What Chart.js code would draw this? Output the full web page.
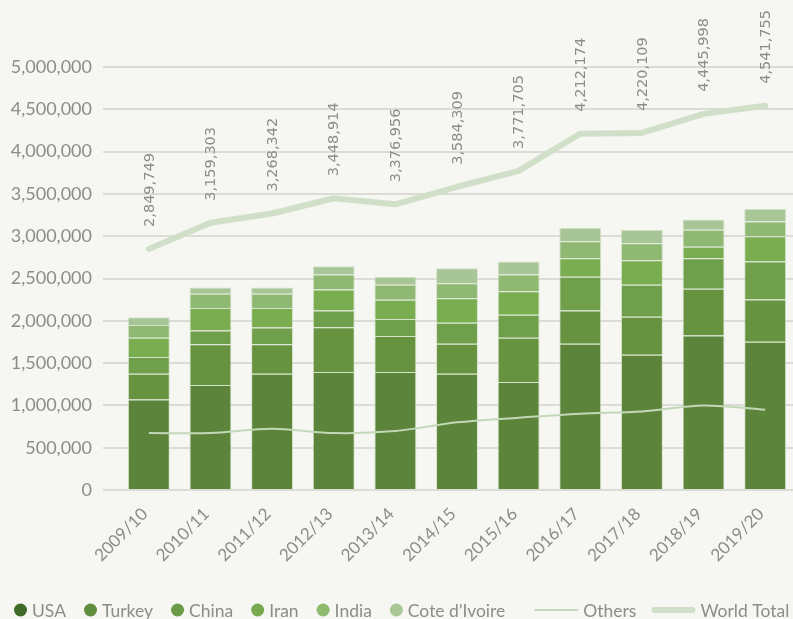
<!DOCTYPE html>
<html>
<head>
<meta charset="utf-8">
<script src="https://cdn.jsdelivr.net/npm/chart.js@4.4.1/dist/chart.umd.min.js"></script>
<style>
  html, body { margin: 0; padding: 0; background: #f6f6f2; overflow: hidden; }
  #wrap { width: 796px; height: 619px; }
</style>
</head>
<body>
<div id="wrap"><canvas id="chart"></canvas></div>
<script>
// seasons on the x axis
const seasons = ["2009/10", "2010/11", "2011/12", "2012/13", "2013/14", "2014/15",
                 "2015/16", "2016/17", "2017/18", "2018/19", "2019/20"];

// stacked producers (bottom to top)
const usa         = [1071000, 1240000, 1375000, 1394000, 1394000, 1375000, 1276000, 1729000, 1599000, 1827000, 1753000];
const turkey      = [304000, 484000, 349000, 531000, 425000, 354000, 524000, 393000, 449000, 552000, 499000];
const china       = [196000, 162000, 198000, 197000, 201000, 248000, 272000, 398000, 378000, 361000, 449000];
const iran        = [229000, 264000, 228000, 248000, 229000, 291000, 278000, 220000, 290000, 135000, 299000];
const india       = [149000, 170000, 170000, 178000, 177000, 177000, 198000, 201000, 201000, 200000, 173000];
const coteDIvoire = [94000, 74000, 74000, 98000, 94000, 177000, 153000, 158000, 158000, 122000, 150000];

// lines
const others     = [673000, 673000, 725000, 673000, 697000, 800000, 855000, 902000, 929000, 1000000, 950000];
const worldTotal = [2849749, 3159303, 3268342, 3448914, 3376956, 3584309, 3771705, 4212174, 4220109, 4445998, 4541755];

const yTicks = [0, 500000, 1000000, 1500000, 2000000, 2500000, 3000000, 3500000, 4000000, 4500000, 5000000];

const GREY = "#8c8c8c";

function barSet(label, data, color, legendColor) {
    return {
        type: "bar", label: label, data: data, stack: "bars", order: 2,
        backgroundColor: color, legendColor: legendColor,
        borderColor: "rgba(200,222,188,0.75)", borderWidth: 1,
        categoryPercentage: 0.68, barPercentage: 1
    };
}

// value labels above the world total line
const totalLabels = {
    id: "totalLabels",
    afterDatasetsDraw(chart) {
        const ctx = chart.ctx;
        const meta = chart.getDatasetMeta(7);
        ctx.save();
        ctx.font = "14.5px 'DejaVu Sans'";
        ctx.fillStyle = GREY;
        ctx.textAlign = "left";
        ctx.textBaseline = "middle";
        meta.data.forEach((pt, i) => {
            ctx.save();
            ctx.translate(pt.x + 1, pt.y - 22);
            ctx.rotate(-Math.PI / 2);
            ctx.fillText(worldTotal[i].toLocaleString("en-US"), 0, 0);
            ctx.restore();
        });
        ctx.restore();
    }
};

// legend along the bottom
const bottomLegend = {
    id: "bottomLegend",
    afterDraw(chart) {
        const ctx = chart.ctx;
        const y = 610;
        let x = 14;
        let prevType = null;
        ctx.save();
        ctx.font = "17.5px Lato";
        ctx.fillStyle = GREY;
        ctx.textBaseline = "middle";
        chart.data.datasets.forEach((ds, i) => {
            if (i > 0) {
                if (ds.type === "line" && prevType === "bar") x += 29;
                else if (ds.type === "line") x += 15;
                else x += 18;
            }
            if (ds.type === "bar") {
                ctx.beginPath();
                ctx.arc(x + 6.5, y, 6.5, 0, Math.PI * 2);
                ctx.fillStyle = ds.legendColor;
                ctx.fill();
                x += 18;
            } else {
                ctx.beginPath();
                ctx.moveTo(x + ds.borderWidth / 2, y);
                ctx.lineTo(x + 44 - ds.borderWidth / 2, y);
                ctx.strokeStyle = ds.borderColor;
                ctx.lineWidth = ds.borderWidth;
                ctx.lineCap = "round";
                ctx.stroke();
                x += 49;
            }
            ctx.fillStyle = GREY;
            ctx.fillText(ds.label, x, y + 1);
            x += ctx.measureText(ds.label).width;
            prevType = ds.type;
        });
        ctx.restore();
    }
};

new Chart(document.getElementById("chart"), {
    data: {
        labels: seasons,
        datasets: [
            barSet("USA", usa, "#5c843a", "#3f6c29"),
            barSet("Turkey", turkey, "#67923f", "#5f8e3e"),
            barSet("China", china, "#6f9f4a", "#6a9b48"),
            barSet("Iran", iran, "#7aad50", "#77aa4f"),
            barSet("India", india, "#8fb873", "#8fbb70"),
            barSet("Cote d'Ivoire", coteDIvoire, "#a8c597", "#a9c895"),
            {
                type: "line", label: "Others", data: others, stack: "others", order: 1,
                borderColor: "#c3d8b8", borderWidth: 2, tension: 0.3,
                pointRadius: 0, fill: false
            },
            {
                type: "line", label: "World Total", data: worldTotal, stack: "total", order: 0,
                borderColor: "#d0e0c8", borderWidth: 6, tension: 0,
                borderCapStyle: "round", borderJoinStyle: "round",
                pointRadius: 0, fill: false
            }
        ]
    },
    options: {
        responsive: true,
        maintainAspectRatio: false,
        animation: false,
        layout: { padding: { top: 67, bottom: 49, left: 0, right: 0 } },
        plugins: {
            legend: { display: false },
            tooltip: { enabled: false }
        },
        scales: {
            x: {
                stacked: true,
                offset: true,
                grid: { display: false },
                border: { display: false },
                ticks: {
                    color: GREY, font: { family: "Lato", size: 17 },
                    minRotation: 45, maxRotation: 45, padding: 6, labelOffset: -4
                },
                afterFit(scale) { scale.height = 80; }
            },
            y: {
                stacked: true,
                min: 0, max: 5000000,
                afterBuildTicks(scale) { scale.ticks = yTicks.map(v => ({ value: v })); },
                grid: { color: "#dcdcd7", lineWidth: 2, drawTicks: true, tickLength: 15 },
                border: { display: false },
                ticks: {
                    color: GREY, font: { family: "Lato", size: 18 }, padding: 11,
                    callback: v => v.toLocaleString("en-US")
                },
                afterFit(scale) { scale.width = 118; }
            }
        }
    },
    plugins: [totalLabels, bottomLegend]
});
</script>
</body>
</html>
